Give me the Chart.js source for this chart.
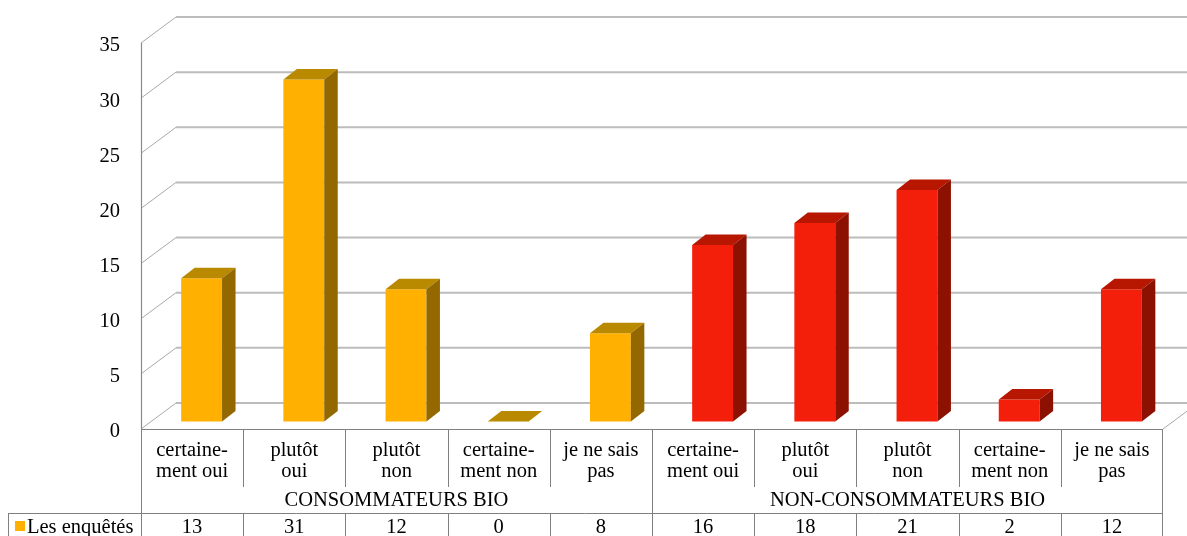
<!DOCTYPE html>
<html lang="fr">
<head>
<meta charset="UTF-8">
<title>Enquête - consommateurs bio</title>
<script src="https://cdn.jsdelivr.net/npm/chart.js"></script>
<style>
  html, body { margin: 0; padding: 0; background: #fff; }
  #wrap { width: 1187px; height: 536px; }
</style>
</head>
<body>
<div id="wrap"><canvas id="chart" width="1187" height="536"></canvas></div>
<script>
// categories (two-line labels), groups and values
const categories = [
    ['certaine-', 'ment oui'], ['plutôt', 'oui'], ['plutôt', 'non'], ['certaine-', 'ment non'], ['je ne sais', 'pas'],
    ['certaine-', 'ment oui'], ['plutôt', 'oui'], ['plutôt', 'non'], ['certaine-', 'ment non'], ['je ne sais', 'pas']
];
const groups = ['CONSOMMATEURS BIO', 'NON-CONSOMMATEURS BIO'];
const groupSizes = [5, 5];
const seriesName = 'Les enquêtés';
const values = [13, 31, 12, 0, 8, 16, 18, 21, 2, 12];
const yMax = 35;
const yStep = 5;

// face colours for each group
const palette = [
    { front: '#FFB000', top: '#B98900', side: '#936800' },
    { front: '#F41F0A', top: '#B71600', side: '#8D1100' }
];
const groupOf = [];
groupSizes.forEach((n, g) => { for (let k = 0; k < n; k++) groupOf.push(g); });

const FONT = '20.5px "Liberation Serif", "DejaVu Serif", serif';
// 3D geometry: wall depth, bar offset into the wall, bar depth
const WALL = { dx: 35, dy: -26 };
const BAR_OFF = { dx: 9.5, dy: -7.5 };
const BAR_DEPTH = { dx: 13.5, dy: -10.5 };

const depth3d = {
    id: 'depth3d',
    beforeDatasetsDraw(chart) {
        const { ctx, chartArea: a, scales: { y } } = chart;
        ctx.save();
        // back wall gridlines and left wall diagonals
        for (let v = 0; v <= yMax; v += yStep) {
            const py = y.getPixelForValue(v);
            ctx.strokeStyle = '#bcbcbc';
            ctx.lineWidth = 2;
            ctx.beginPath();
            ctx.moveTo(a.left + WALL.dx, py + WALL.dy);
            ctx.lineTo(chart.width, py + WALL.dy);
            ctx.stroke();
            ctx.strokeStyle = '#a8a8a8';
            ctx.lineWidth = 1;
            ctx.beginPath();
            ctx.moveTo(a.left, py);
            ctx.lineTo(a.left + WALL.dx, py + WALL.dy);
            ctx.stroke();
        }
        // floor right edge
        ctx.strokeStyle = '#a8a8a8';
        ctx.beginPath();
        ctx.moveTo(a.right, a.bottom);
        ctx.lineTo(a.right + WALL.dx, a.bottom + WALL.dy);
        ctx.stroke();
        // front left edge of the wall
        ctx.strokeStyle = '#8a8a8a';
        ctx.lineWidth = 1.2;
        ctx.beginPath();
        ctx.moveTo(a.left + 0.5, a.top);
        ctx.lineTo(a.left + 0.5, a.bottom);
        ctx.stroke();
        ctx.restore();

        // bars sit a little inside the floor
        ctx.save();
        ctx.translate(BAR_OFF.dx, BAR_OFF.dy);
    },
    afterDatasetsDraw(chart) {
        const { ctx } = chart;
        const meta = chart.getDatasetMeta(0);
        meta.data.forEach((bar, i) => {
            const c = palette[groupOf[i]];
            const L = bar.x - bar.width / 2, R = bar.x + bar.width / 2;
            const T = bar.y, B = bar.base;
            // top face
            ctx.fillStyle = c.top;
            ctx.beginPath();
            ctx.moveTo(L, T);
            ctx.lineTo(L + BAR_DEPTH.dx, T + BAR_DEPTH.dy);
            ctx.lineTo(R + BAR_DEPTH.dx, T + BAR_DEPTH.dy);
            ctx.lineTo(R, T);
            ctx.closePath();
            ctx.fill();
            // right side face
            if (B - T > 0.5) {
                ctx.fillStyle = c.side;
                ctx.beginPath();
                ctx.moveTo(R, T);
                ctx.lineTo(R + BAR_DEPTH.dx, T + BAR_DEPTH.dy);
                ctx.lineTo(R + BAR_DEPTH.dx, B + BAR_DEPTH.dy);
                ctx.lineTo(R, B);
                ctx.closePath();
                ctx.fill();
            }
        });
        ctx.restore();
    },
    afterDraw(chart) {
        // data table under the plot
        const { ctx, chartArea: a, scales: { x } } = chart;
        const n = categories.length;
        const colW = (a.right - a.left) / n;
        const top = a.bottom;
        const rowData = 513;
        const bottom = chart.height;
        ctx.save();
        ctx.strokeStyle = '#808080';
        ctx.lineWidth = 1;
        const line = (x1, y1, x2, y2) => {
            ctx.beginPath(); ctx.moveTo(x1, y1); ctx.lineTo(x2, y2); ctx.stroke();
        };
        line(a.left, top + 0.5, a.right, top + 0.5);
        line(a.left + 0.5, top, a.left + 0.5, bottom);
        line(a.right - 0.5, top, a.right - 0.5, bottom);
        line(8, rowData + 0.5, a.right, rowData + 0.5);
        line(8.5, rowData, 8.5, bottom);
        let boundary = 0;
        const groupEdges = groupSizes.map(s => (boundary += s));
        for (let i = 1; i < n; i++) {
            const px = Math.round(a.left + colW * i) + 0.5;
            if (groupEdges.includes(i)) line(px, top, px, bottom);
            else {
                line(px, top, px, 487);
                line(px, rowData, px, bottom);
            }
        }
        ctx.fillStyle = '#000';
        ctx.font = FONT;
        ctx.textAlign = 'center';
        ctx.textBaseline = 'middle';
        categories.forEach((lbl, i) => {
            const cx = x.getPixelForValue(i);
            ctx.fillText(lbl[0], cx, 451);
            ctx.fillText(lbl[1], cx, 472);
            ctx.fillText(String(values[i]), cx, 528);
        });
        let start = 0;
        groups.forEach((g, k) => {
            const x0 = a.left + colW * start;
            const x1 = x0 + colW * groupSizes[k];
            ctx.fillText(g, (x0 + x1) / 2, 501);
            start += groupSizes[k];
        });
        // legend key
        ctx.fillStyle = palette[0].front;
        ctx.fillRect(15, 521, 10, 10);
        ctx.fillStyle = '#000';
        ctx.textAlign = 'left';
        ctx.fillText(seriesName, 27, 528);
        ctx.restore();
    }
};

new Chart(document.getElementById('chart'), {
    type: 'bar',
    data: {
        labels: categories,
        datasets: [{
            label: seriesName,
            data: values,
            backgroundColor: values.map((_, i) => palette[groupOf[i]].front),
            borderWidth: 0,
            categoryPercentage: 1,
            barPercentage: 0.4,
            clip: false
        }]
    },
    options: {
        responsive: false,
        animation: false,
        devicePixelRatio: 1,
        layout: { padding: { top: 43, right: 24, bottom: 107, left: 0 } },
        plugins: { legend: { display: false }, tooltip: { enabled: false } },
        scales: {
            x: { display: false },
            y: {
                min: 0,
                max: yMax,
                ticks: {
                    stepSize: yStep, color: '#000', padding: 21, labelOffset: 3,
                    font: { family: '"Liberation Serif", serif', size: 20.5 }
                },
                grid: { display: false, drawTicks: false },
                border: { display: false },
                afterFit(scale) { scale.width = 141; }
            }
        }
    },
    plugins: [depth3d]
});
</script>
</body>
</html>
